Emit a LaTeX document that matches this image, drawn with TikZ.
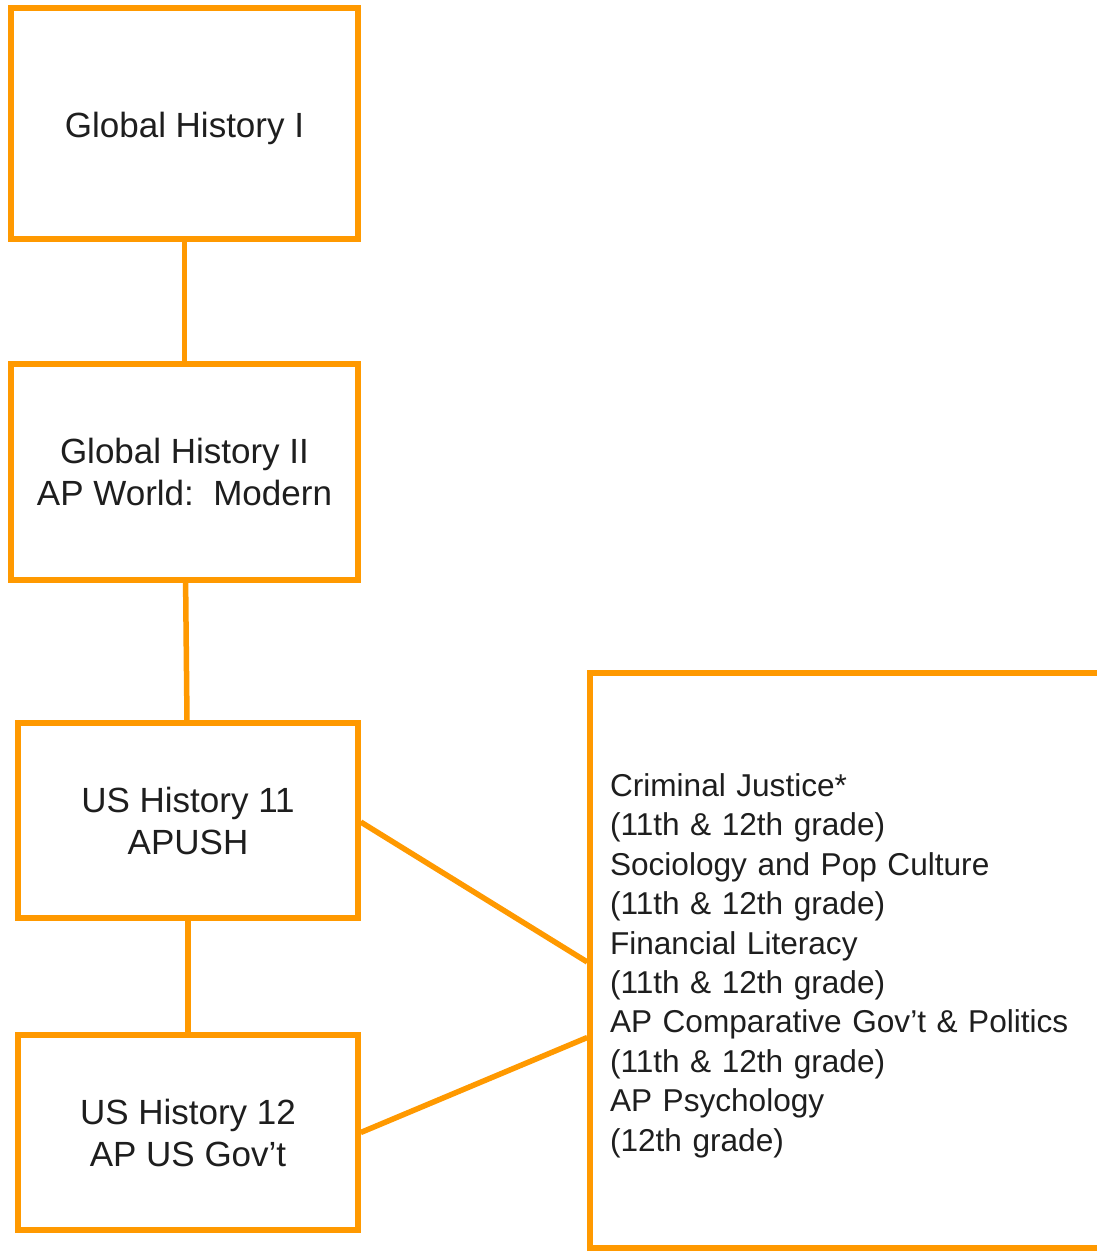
\documentclass[tikz,border=0pt]{standalone}
\usepackage{fontspec}
\setmainfont{Liberation Sans}
\definecolor{lineorange}{RGB}{255,153,0}
\definecolor{txtc}{RGB}{30,30,30}
% taller first line, pushes the text block a little down
\newcommand{\dropline}[1]{\rule{0pt}{#1}}

\begin{document}
\begin{tikzpicture}[x=1pt, y=-1pt, node distance=348.5pt,
    course/.style={rectangle, draw=lineorange, line width=5.5pt, text=txtc, align=center, font=\fontsize{35}{42}\selectfont, inner sep=0pt},
    link/.style={draw=lineorange, line width=5.5pt}]

    \useasboundingbox (0,0) rectangle (1097,1251);
    \clip (0,0) rectangle (1097,1251);

    \node[course, minimum width=347pt, minimum height=231pt] at (184.5,123.5) (gh1) {\dropline{36pt}Global History I};
    \node[course, minimum width=347pt, minimum height=216pt, below of=gh1] (gh2) {Global History II\\AP World:\ \ Modern};
    \node[course, minimum width=340pt, minimum height=195pt, below of=gh2, xshift=3.5pt] (us11) {US History 11\\APUSH};
    \node[course, minimum width=340pt, minimum height=195pt, below of=us11, node distance=312pt] (us12) {US History 12\\AP US Gov’t};
    \node[course, align=left, font=\fontsize{31.6}{39.4}\selectfont, text width=474pt, inner xsep=20pt, minimum height=575pt] at (847,960.5) (elect) {\dropline{33pt}Criminal Justice*\\(11th \& 12th grade)\\Sociology and Pop Culture\\(11th \& 12th grade)\\Financial Literacy\\(11th \& 12th grade)\\AP Comparative Gov’t \& Politics\\(11th \& 12th grade)\\AP Psychology\\(12th grade)};

    \draw[link] (gh1) -- (gh2);
    \draw[link] (gh2) -- (us11);
    \draw[link] (us11) -- (us12);
    \draw[link] ([yshift=-1.5pt]us11.east) -- ([yshift=-1.5pt]elect.west);
    \draw[link] (us12.east) -- ([yshift=-77pt]elect.west);

  \end{tikzpicture}
\end{document}
